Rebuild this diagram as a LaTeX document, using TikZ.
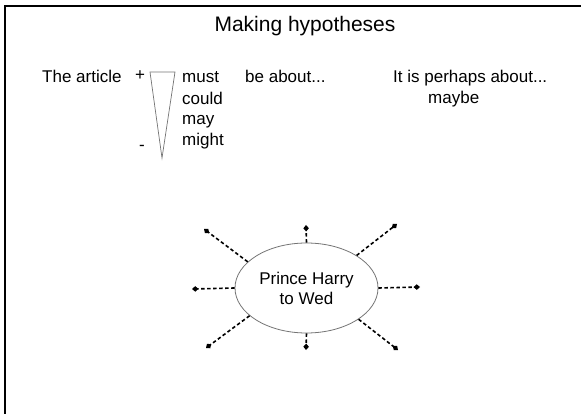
\documentclass[tikz,border=0pt]{standalone}
\usepackage{fontspec}
\setmainfont{Liberation Sans}
\usetikzlibrary{arrows.meta,shapes.geometric}
\begin{document}
\begin{tikzpicture}[x=1pt,y=-1pt,
  txt/.style={anchor=base west,inner sep=0pt,font=\fontsize{17}{20}\selectfont},
  ray/.style={line width=1.6pt,dash pattern=on 3.5pt off 2.5pt,-{Diamond[length=6.5pt,width=5.5pt]}},
  bubble/.style={ellipse,draw=black!55,line width=0.8pt,minimum width=143pt,minimum height=90pt,inner sep=0pt,align=center,font=\fontsize{17}{20}\selectfont}]
\useasboundingbox (0,0) rectangle (581,414);
\draw[line width=1.5pt] (5,414) -- (5,6) -- (581,6);
\node[inner sep=0pt,anchor=base,font=\fontsize{21}{24}\selectfont] (title) at (305,32) {Making hypotheses};
\node[txt] (art) at (42,83) {The article};
\node[inner sep=0pt,font=\fontsize{17}{20}\selectfont] (plus) at (140,76) {+};
\node[inner sep=0pt,font=\fontsize{17}{20}\selectfont] (minus) at (142,148) {-};
\draw[black!55,line width=0.7pt] (150,72) -- (175,72) -- (162,158) -- cycle;
\node[txt] (must) at (182,83) {must};
\node[txt] (could) at (182,104.5) {could};
\node[txt] (may) at (182,125) {may};
\node[txt] (might) at (182,145.5) {might};
\node[txt] (be) at (245,83) {be about...};
\node[txt] (perh) at (393,83) {It is perhaps about...};
\node[txt] (maybe) at (428,104) {maybe};
\node[bubble] (e) at (306.5,288) {Prince Harry\\to Wed};
\coordinate (t) at (306,225);
\coordinate (b) at (306,350);
\coordinate (l) at (192,289);
\coordinate (r) at (420,287);
\coordinate (tl) at (204,229);
\coordinate (tr) at (397,224);
\coordinate (bl) at (206,348);
\coordinate (br) at (398,350);
\draw[ray] (e.90) -- (t);
\draw[ray] (e.270) -- (b);
\draw[ray] (e.180) -- (l);
\draw[ray] (e.0) -- (r);
\draw[ray] (e.156) -- (tl);
\draw[ray] (e.33) -- (tr);
\draw[ray] (e.206) -- (bl);
\draw[ray] (e.329) -- (br);
\end{tikzpicture}
\end{document}
